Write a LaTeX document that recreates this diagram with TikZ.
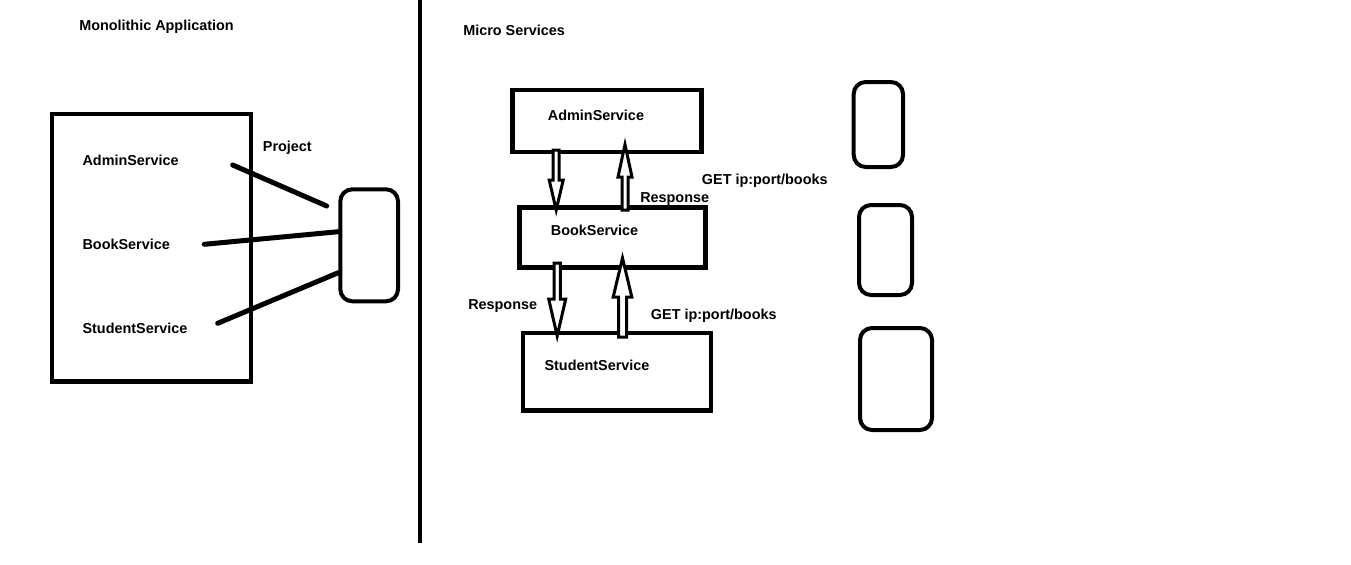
\documentclass[tikz,border=0pt]{standalone}
\usepackage{fontspec}
\setmainfont{Liberation Sans}
\newcommand\blockarrow[6]{%
  \draw[hollow] (#1-#2,#4) -- (#1-#2,#5) -- (#1-#3,#5) -- (#1,#6) -- (#1+#3,#5) -- (#1+#2,#5) -- (#1+#2,#4) -- cycle;}
\begin{document}
\begin{tikzpicture}[x=0.75pt,y=-0.75pt,
  lbl/.style={anchor=base west,inner sep=0pt,font=\fontsize{10.8}{12}\selectfont\bfseries},
  frame/.style={draw,line width=3.5pt},
  pill/.style={draw,line width=3pt,rounded corners=9pt},
  wire/.style={line width=3.75pt,line cap=round},
  hollow/.style={draw,fill=white,line width=2.25pt,line join=miter}]
\useasboundingbox (0,0) rectangle (1351,564);
\fill[white] (0,0) rectangle (1351,564);

% ---------- Monolithic side ----------
\node[lbl] (mono) at (79,30) {Monolithic Application};
\draw[frame] (52,114) rectangle (251,381.5);
\node[lbl] (ladmin) at (82.3,165.5) {AdminService};
\node[lbl] (lbook) at (82.3,249) {BookService};
\node[lbl] (lstudent) at (82.3,333) {StudentService};
\node[lbl] (proj) at (262.7,151.5) {Project};
\draw[pill] (340.3,189.3) rectangle (398,301.3);
\coordinate (w1a) at (232.7,165);
\coordinate (w1b) at (326.7,206);
\coordinate (w2a) at (204.3,244.3);
\coordinate (w2b) at (338.3,231.7);
\coordinate (w3a) at (217.7,323.3);
\coordinate (w3b) at (338.3,272.7);
\draw[wire] (w1a) -- (w1b);
\draw[wire] (w2a) -- (w2b);
\draw[wire] (w3a) -- (w3b);

% ---------- divider ----------
\coordinate (dtop) at (420,0);
\coordinate (dbot) at (420,543);
\draw[line width=3pt] (dtop) -- (dbot);

% ---------- Micro services side ----------
\node[lbl] (micro) at (463,35) {Micro Services};
\draw[frame] (512.5,90) rectangle (701.5,152);
\draw[frame] (519.5,207.5) rectangle (705.5,267.5);
\draw[frame] (523,333) rectangle (711,410.5);
\node[lbl] (madmin) at (547.7,120) {AdminService};
\node[lbl] (mbook) at (550.7,235) {BookService};
\node[lbl] (mstudent) at (544.3,370) {StudentService};

\blockarrow{556.2}{3}{7}{150}{180}{210}
\blockarrow{625}{3}{7}{210}{177}{144.5}
\blockarrow{557.2}{3.2}{8.5}{263}{299}{336}
\blockarrow{622.5}{4}{9.3}{337}{297}{258}

\node[lbl] (get1) at (701.7,184) {GET ip:port/books};
\node[lbl] (resp1) at (640,202) {Response};
\node[lbl] (resp2) at (468,309) {Response};
\node[lbl] (get2) at (650.7,319) {GET ip:port/books};

\draw[pill] (853.7,82) rectangle (903,167);
\draw[pill] (859,205) rectangle (912,295);
\draw[pill] (860,328) rectangle (932,430);
\end{tikzpicture}
\end{document}
